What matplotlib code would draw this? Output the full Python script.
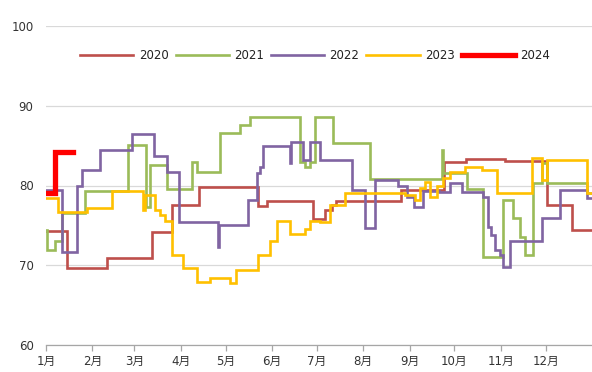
import matplotlib
matplotlib.use("Agg")
import matplotlib.pyplot as plt

plt.rcParams['font.family'] = ['DejaVu Sans', 'Noto Sans CJK SC']

# ---- data (x = day of year, step changes) ----
month_labels = ['1月', '2月', '3月', '4月', '5月', '6月', '7月', '8月', '9月', '10月', '11月', '12月']
month_starts = [0, 31, 59, 90, 120, 151, 181, 212, 243, 273, 304, 334]

days_2020 = [0, 14, 41, 71, 84, 102, 142, 148, 178.5, 186.5, 191, 194, 237, 266, 281, 307, 335, 351.6]
vals_2020 = [74.3, 69.6, 70.9, 74.2, 77.5, 79.8, 77.4, 78.0, 75.8, 76.9, 77.5, 78.1, 79.4, 83.0, 83.3, 83.1, 77.5, 74.4]

days_2021 = [0, 0.7, 6, 10.7, 26, 54.8, 66.8, 69.5, 80.9, 97.6, 100.9, 116.3, 129.7, 136.4, 169.8, 173,
             176.5, 179.8, 191.8, 216.6, 264.7, 265.4, 281.4, 292, 305.5, 312.2, 316.8, 320.2, 325.5, 331.6,
             334.9, 361.6]
vals_2021 = [74.4, 71.9, 73.0, 76.5, 79.3, 85.1, 77.3, 82.6, 79.6, 83.0, 81.7, 86.6, 87.6, 88.6, 83.0, 82.3,
             83.0, 88.6, 85.3, 80.8, 84.4, 81.6, 79.5, 71.0, 78.2, 75.9, 73.6, 71.3, 80.3, 82.8,
             80.3, 79.0]

days_2022 = [0, 10.7, 21.0, 24.0, 36.0, 57.5, 72.2, 80.9, 88.9, 115.0, 115.6, 135.0, 141.3, 143.0, 145.0,
             163.0, 163.6, 171.8, 176.5, 183.2, 204.5, 213.0, 220.0, 235.3, 241, 246, 252, 263, 270, 278,
             292, 295.5, 297.5, 300.1, 303.5, 305.5, 310.2, 331.6, 343.6, 361.6]
vals_2022 = [79.4, 71.7, 79.9, 81.9, 84.4, 86.5, 83.7, 81.7, 75.4, 72.3, 75.1, 78.2, 81.6, 82.3, 84.9,
             82.8, 85.5, 83.2, 85.5, 83.2, 79.4, 74.7, 80.7, 80.0, 78.6, 77.3, 79.3, 79.2, 80.3, 79.2,
             78.6, 74.8, 73.8, 71.9, 71.3, 69.8, 73.1, 75.9, 79.4, 78.4]

days_2023 = [0, 8.0, 27.4, 44.0, 64.8, 66.2, 72.9, 76.2, 79.5, 84.2, 91.6, 100.9, 109.6, 123.0, 127.0,
             141.7, 149.7, 154.4, 163.0, 173.0, 176.5, 183.2, 189.8, 199.9, 240.0, 246.7, 250.0, 253.3,
             256.7, 261.4, 265.4, 270.0, 280.0, 291.4, 301.5, 324.9, 331.6, 334.9, 361.6]
vals_2023 = [78.4, 76.7, 77.2, 79.3, 76.9, 78.8, 76.9, 76.3, 75.6, 71.3, 69.6, 67.9, 68.4, 67.8, 69.4,
             71.3, 73.0, 75.5, 73.9, 74.6, 75.6, 75.4, 77.5, 79.1, 78.8, 78.2, 79.7, 80.5,
             78.6, 80.0, 80.9, 81.7, 82.3, 81.9, 79.0, 83.4, 80.7, 83.2, 79.0]

days_2024 = [0, 6.0]
vals_2024 = [79.0, 84.2]
end_2024 = 18.0

series = [
    ('2020', days_2020, vals_2020, '#BE4F4B', 1.9, 365),
    ('2021', days_2021, vals_2021, '#9BBB59', 1.9, 365),
    ('2022', days_2022, vals_2022, '#8064A2', 1.9, 365),
    ('2023', days_2023, vals_2023, '#FFC000', 1.9, 365),
    ('2024', days_2024, vals_2024, '#FF0000', 3.8, end_2024),
]

fig = plt.figure(figsize=(5.92, 3.72), dpi=100)
ax = fig.add_axes([46 / 592, 1 - 345 / 372, 546 / 592, (345 - 26) / 372])

for name, d, v, c, lw, end in series:
    xs = list(d) + [end]
    ys = list(v) + [v[-1]]
    ax.step(xs, ys, where='post', color=c, lw=lw, label=name, solid_joinstyle='miter')

ax.set_xlim(0, 365)
ax.set_ylim(60, 100)
ax.set_yticks([60, 70, 80, 90, 100])
ax.set_xticks(month_starts)
ax.set_xticklabels(month_labels)

ax.yaxis.grid(True, color='#D9D9D9', lw=0.9)
ax.set_axisbelow(True)
for s in ['top', 'right', 'left']:
    ax.spines[s].set_visible(False)
ax.spines['bottom'].set_color('#A6A6A6')
ax.spines['bottom'].set_linewidth(0.9)
ax.tick_params(axis='y', length=0, pad=9, labelsize=8.5, labelcolor='#333333')
ax.tick_params(axis='x', length=4, width=0.9, color='#A6A6A6', pad=3.5, labelsize=8.5,
               labelcolor='#333333', direction='out')

leg = ax.legend(loc='center', bbox_to_anchor=(0.493, 0.906), ncol=5, frameon=False,
                fontsize=8.5, handlelength=4.5, handletextpad=0.45, columnspacing=0.6,
                borderpad=0, borderaxespad=0)
for t in leg.get_texts():
    t.set_color('#222222')

fig.savefig('out.png', dpi=100, facecolor='white')
